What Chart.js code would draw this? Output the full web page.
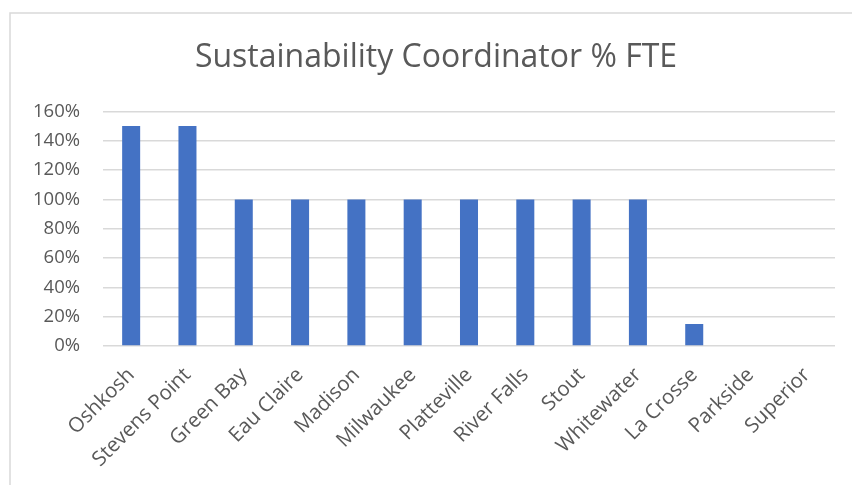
<!DOCTYPE html>
<html>
<head>
<meta charset="utf-8">
<script src="https://cdn.jsdelivr.net/npm/chart.js@4"></script>
<style>
  body { margin: 0; background: #fff; }
  #wrap { width: 852px; height: 485px; }
</style>
</head>
<body>
<div id="wrap"><canvas id="fteChart" width="852" height="485"></canvas></div>
<script>
const campuses = [
  "Oshkosh", "Stevens Point", "Green Bay", "Eau Claire", "Madison", "Milwaukee",
  "Platteville", "River Falls", "Stout", "Whitewater", "La Crosse", "Parkside", "Superior"
];
const ftePercent = [150, 150, 100, 100, 100, 100, 100, 100, 100, 100, 15, 0, 0];
const yTicks = [0, 20, 40, 60, 80, 100, 120, 140, 160];

const textGray = "#595959";
const gridGray = "#d9d9d9";

// outer chart frame, like the Excel chart border
const frame = {
  id: "frame",
  beforeDraw(chart) {
    const ctx = chart.ctx;
    ctx.save();
    ctx.strokeStyle = gridGray;
    ctx.lineWidth = 1.5;
    ctx.strokeRect(10, 13, 900, 500);
    ctx.restore();
  },
};

const ctx = document.getElementById("fteChart").getContext("2d");
new Chart(ctx, {
  type: "bar",
  data: {
    labels: campuses,
    datasets: [
      {
        data: ftePercent,
        backgroundColor: "#4472C4",
        barPercentage: 0.32,
        categoryPercentage: 1,
      },
    ],
  },
  options: {
    responsive: false,
    animation: false,
    layout: { padding: { left: 20, right: 0, top: 0, bottom: 0 } },
    scales: {
      x: {
        grid: { display: false },
        border: { display: false },
        ticks: {
          color: textGray,
          font: { family: "Open Sans", size: 20.5 },
          minRotation: 45,
          maxRotation: 45,
          padding: 9,
          autoSkip: false,
        },
        afterFit(scale) {
          scale.height = 139;
        },
      },
      y: {
        min: 0,
        max: 160,
        afterBuildTicks(scale) {
          scale.ticks = yTicks.map((v) => ({ value: v }));
        },
        grid: { color: gridGray, lineWidth: 1.5, drawTicks: false },
        border: { display: false },
        ticks: {
          color: textGray,
          font: { family: "Open Sans", size: 18.5 },
          padding: 23,
          callback: (v) => v + "%",
        },
        afterFit(scale) {
          scale.width = 83;
        },
      },
      yRight: {
        position: "right",
        display: true,
        grid: { display: false },
        border: { display: false },
        ticks: { display: false },
        afterFit(scale) {
          scale.width = 17;
        },
      },
    },
    plugins: {
      legend: { display: false },
      tooltip: { enabled: false },
      title: {
        display: true,
        text: "Sustainability Coordinator % FTE",
        color: textGray,
        font: { family: "Open Sans", size: 32, weight: "normal" },
        padding: { top: 39, bottom: 34 },
      },
    },
  },
  plugins: [frame],
});
</script>
</body>
</html>
